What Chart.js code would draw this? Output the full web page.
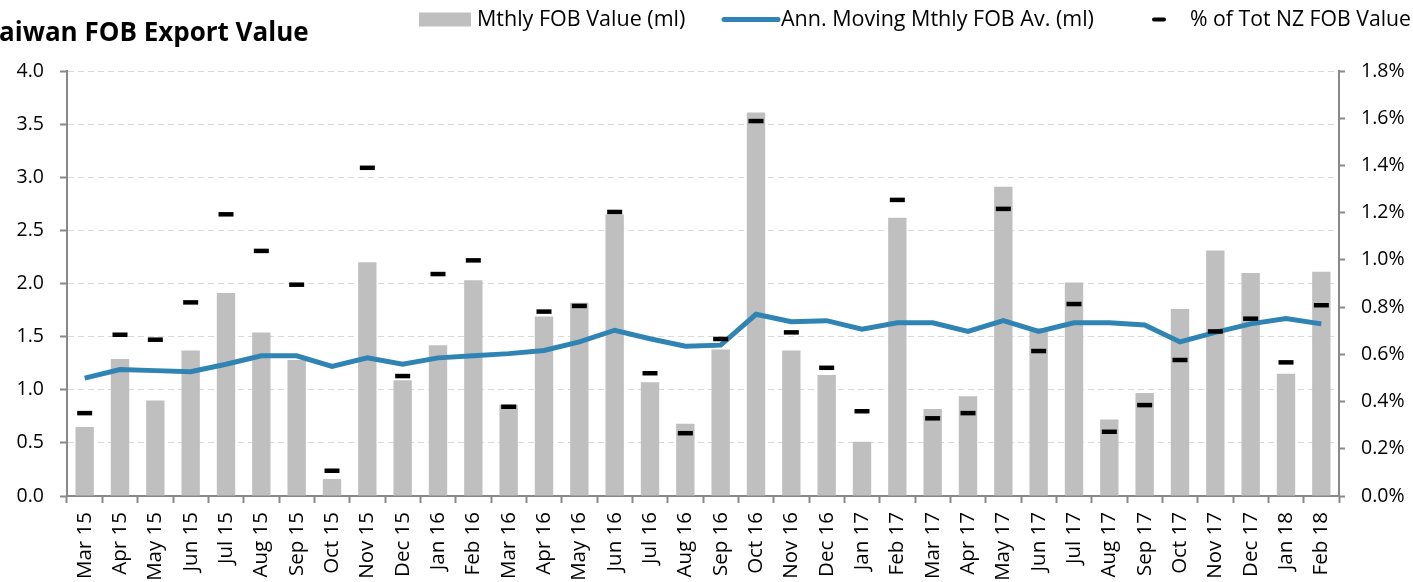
<!DOCTYPE html>
<html>
<head>
<meta charset="utf-8">
<script src="https://cdn.jsdelivr.net/npm/chart.js@4"></script>
<style>
  html, body { margin: 0; padding: 0; background: #fff; overflow: hidden; }
  canvas { display: block; }
</style>
</head>
<body>
<canvas id="fobChart" width="1413" height="582"></canvas>
<script>
// monthly labels
const months = [
  "Mar 15", "Apr 15", "May 15", "Jun 15", "Jul 15", "Aug 15", "Sep 15", "Oct 15", "Nov 15", "Dec 15", "Jan 16", "Feb 16",
  "Mar 16", "Apr 16", "May 16", "Jun 16", "Jul 16", "Aug 16", "Sep 16", "Oct 16", "Nov 16", "Dec 16", "Jan 17", "Feb 17",
  "Mar 17", "Apr 17", "May 17", "Jun 17", "Jul 17", "Aug 17", "Sep 17", "Oct 17", "Nov 17", "Dec 17", "Jan 18", "Feb 18"
];

// NZ$ million
const mthlyFob = [
  0.65, 1.29, 0.90, 1.37, 1.91, 1.54, 1.28, 0.16, 2.20, 1.09, 1.42, 2.03,
  0.86, 1.69, 1.82, 2.65, 1.07, 0.68, 1.38, 3.61, 1.37, 1.14, 0.51, 2.62,
  0.82, 0.94, 2.91, 1.58, 2.01, 0.72, 0.97, 1.76, 2.31, 2.10, 1.15, 2.11
];

// annual moving monthly average
const movingAvg = [
  1.11, 1.19, 1.18, 1.17, 1.24, 1.32, 1.32, 1.22, 1.30, 1.24, 1.30, 1.32,
  1.34, 1.37, 1.45, 1.56, 1.48, 1.41, 1.42, 1.71, 1.64, 1.65, 1.57, 1.63,
  1.63, 1.55, 1.65, 1.55, 1.63, 1.63, 1.61, 1.45, 1.54, 1.62, 1.67, 1.62
];

// share of total NZ FOB value, in percent
const pctOfTotal = [
  0.351, 0.683, 0.662, 0.820, 1.193, 1.038, 0.895, 0.107, 1.390, 0.508, 0.940, 0.998,
  0.378, 0.781, 0.805, 1.203, 0.520, 0.266, 0.665, 1.588, 0.693, 0.543, 0.359, 1.254,
  0.329, 0.351, 1.216, 0.614, 0.813, 0.272, 0.385, 0.576, 0.697, 0.751, 0.566, 0.808
];

const legendNames = ["Mthly FOB Value (ml)", "Ann. Moving Mthly FOB Av. (ml)", "% of Tot NZ FOB Value"];
const chartTitle = "Taiwan FOB Export Value";

const BAR_GREY = "#bfbfbf";
const LINE_BLUE = "#2f84b3";
const AXIS_GREY = "#888888";
const FONT = "'Open Sans', 'Noto Sans', sans-serif";

// title + legend drawn on the canvas, same look as the excel export
const headerPlugin = {
  id: "header",
  afterDraw(chart) {
    const ctx = chart.ctx;
    ctx.save();
    ctx.fillStyle = "#000";
    ctx.font = "bold 26px " + FONT;
    ctx.textBaseline = "alphabetic";
    // title is cut off on the left in the source, keep it that way
    const tW = ctx.measureText("T").width;
    ctx.fillText(chartTitle, -tW - 1, 41);

    ctx.font = "21.5px " + FONT;
    ctx.textBaseline = "middle";
    const ly = 19.5;
    // bars
    ctx.fillStyle = BAR_GREY;
    ctx.fillRect(419, ly - 7, 52, 14);
    ctx.fillStyle = "#000";
    ctx.fillText(legendNames[0], 477, ly, 211);
    // line
    ctx.strokeStyle = LINE_BLUE;
    ctx.lineWidth = 5;
    ctx.lineCap = "round";
    ctx.beginPath();
    ctx.moveTo(724, ly);
    ctx.lineTo(778, ly);
    ctx.stroke();
    ctx.fillText(legendNames[1], 781, ly, 313);
    // marker
    ctx.strokeStyle = "#000";
    ctx.lineWidth = 4;
    ctx.beginPath();
    ctx.moveTo(1154, ly);
    ctx.lineTo(1164, ly);
    ctx.stroke();
    ctx.fillText(legendNames[2], 1190, ly, 221);
    ctx.restore();
  }
};

const tickFont = { family: FONT, size: 19.5 };

new Chart(document.getElementById("fobChart"), {
  data: {
    labels: months,
    datasets: [
      {
        type: "line",
        label: legendNames[2],
        data: pctOfTotal,
        yAxisID: "y1",
        showLine: false,
        pointStyle: "line",
        pointRadius: 7.5,
        pointBorderWidth: 4.5,
        pointBorderColor: "#000",
        pointBackgroundColor: "#000",
        order: 1
      },
      {
        type: "line",
        label: legendNames[1],
        data: movingAvg,
        yAxisID: "y",
        borderColor: LINE_BLUE,
        borderWidth: 5,
        pointRadius: 0,
        tension: 0,
        order: 2
      },
      {
        type: "bar",
        label: legendNames[0],
        data: mthlyFob,
        yAxisID: "y",
        backgroundColor: BAR_GREY,
        categoryPercentage: 1,
        barPercentage: 0.52,
        order: 3
      }
    ]
  },
  options: {
    responsive: false,
    devicePixelRatio: 1,
    animation: false,
    events: [],
    layout: { padding: { top: 71, left: 0, right: 0, bottom: 0 } },
    plugins: {
      legend: { display: false },
      tooltip: { enabled: false }
    },
    scales: {
      x: {
        offset: true,
        grid: {
          offset: true,
          drawOnChartArea: false,
          tickLength: 7,
          tickColor: AXIS_GREY,
          tickWidth: 2
        },
        border: { color: AXIS_GREY, width: 2 },
        ticks: {
          color: "#000",
          font: { family: FONT, size: 20.5 },
          minRotation: 90,
          maxRotation: 90,
          autoSkip: false,
          padding: 9
        },
        afterFit(scale) { scale.height = 86; }
      },
      y: {
        position: "left",
        min: 0,
        max: 4,
        ticks: {
          stepSize: 0.5,
          color: "#000",
          font: tickFont,
          padding: 16,
          callback: v => v.toFixed(1)
        },
        grid: {
          color: "#d9d9d9",
          lineWidth: 1,
          tickLength: 7,
          tickColor: AXIS_GREY,
          tickWidth: 2,
          tickBorderDash: []
        },
        border: { color: AXIS_GREY, width: 2, dash: [6, 4] },
        afterFit(scale) { scale.width = 67; }
      },
      y1: {
        position: "right",
        min: 0,
        max: 1.8,
        ticks: {
          stepSize: 0.2,
          color: "#000",
          font: tickFont,
          padding: 16,
          callback: v => v.toFixed(1) + "%"
        },
        grid: {
          drawOnChartArea: false,
          tickLength: 6,
          tickColor: AXIS_GREY,
          tickWidth: 2
        },
        border: { color: AXIS_GREY, width: 2 },
        afterFit(scale) { scale.width = 74; }
      }
    }
  },
  plugins: [headerPlugin]
});
</script>
</body>
</html>
